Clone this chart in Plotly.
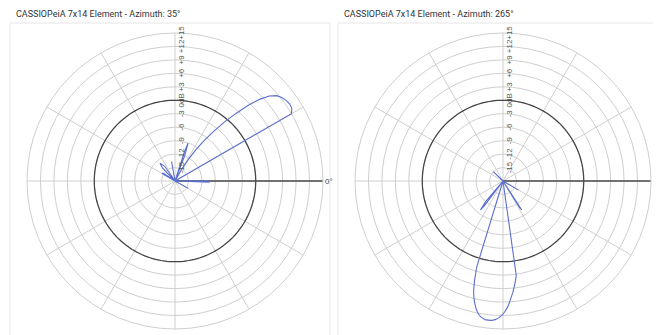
import plotly.graph_objects as go

# ---------------- data ----------------
r_ticks = [-15, -12, -9, -6, -3, 0, 3, 6, 9, 12, 15]
r_tick_labels = ["-15", "-12", "-9", "-6", "-3", "0dB", "+3", "+6", "+9", "+12", "+15"]
angle_ticks = [0, 30, 60, 90, 120, 150, 180, 210, 240, 270, 300, 330]
angle_tick_labels = ["0°", "", "", "", "", "", "", "", "", "", "", ""]

titles = ["CASSIOPeiA 7x14 Element - Azimuth: 35°",
          "CASSIOPeiA 7x14 Element - Azimuth: 265°"]

# azimuth 35 pattern (deg, dB)
theta_35 = [0, 1, 29, 30, 32, 34, 36, 38, 40, 42, 44, 46, 48, 50, 52, 54, 56, 58, 60, 62,
            67, 69, 71, 72, 73, 99, 100, 101, 120, 125, 130, 134, 138, 140, 146, 150, 153,
            329, 331, 333, 357, 358, 360]
gain_35 = [-10.5, -18, -18, 12.0, 12.7, 12.8, 12.6, 12.2, 11.6, 10.3, 8.2, 5.4, 2.2, -0.8,
           -3.8, -6.6, -9.3, -12.0, -14.8, -18,
           -18, -12, -9.1, -11, -18, -18, -13.6, -18, -18, -14, -12.8, -14, -18, -18, -15,
           -14.6, -18, -18, -14.6, -18, -18, -10.3, -10.5]

# azimuth 265 pattern (deg, dB)
theta_265 = [0, 134, 136, 138, 228, 230, 232, 233, 235,
             252, 253, 254, 255, 256, 257, 258, 259, 260, 261, 262, 263, 264, 265, 266, 267,
             268, 269, 270, 271, 272, 273, 274, 275, 276, 277, 278, 279,
             301, 302, 303, 305, 328, 329.5, 331, 360]
gain_265 = [-18, -18, -15, -18, -18, -12, -9.8, -11, -18,
            -18, 2, 5, 7.3, 8.8, 10, 11, 11.8, 12.4, 12.8, 13.0, 13.2, 13.2, 13.2, 13.1, 12.9,
            12.6, 12.2, 11.7, 11.0, 10.2, 9.2, 8.0, 7.0, 5.8, 4.6, 3.2, -18,
            -18, -11, -10.3, -18, -18, -14, -18, -18]

ref_theta = list(range(0, 361, 2))
ref_gain = [0] * len(ref_theta)

# ---------------- figure ----------------
# page body has an 8px margin, so figure coordinates = screen coordinates - 8
W, H = 653, 327
grid = "#cfcfcf"
blue = "#5a6fcf"

fig = go.Figure()
patterns = [(theta_35, gain_35), (theta_265, gain_265)]
for i, (th, g) in enumerate(patterns):
    sp = "polar" if i == 0 else "polar2"
    fig.add_trace(go.Scatterpolar(theta=ref_theta, r=ref_gain, mode="lines",
                                  line=dict(color="#444444", width=1.25),
                                  hoverinfo="skip", subplot=sp, showlegend=False))
    fig.add_trace(go.Scatterpolar(theta=[0, 0], r=[-18, 15], mode="lines",
                                  line=dict(color="#4a4a4a", width=1.4),
                                  hoverinfo="skip", subplot=sp, showlegend=False))
    fig.add_trace(go.Scatterpolar(theta=th, r=g, mode="lines",
                                  line=dict(color=blue, width=1.1),
                                  subplot=sp, showlegend=False))

def polar_layout(xdom):
    return dict(
        domain=dict(x=xdom, y=[6 / H, 302 / H]),
        bgcolor="white",
        radialaxis=dict(range=[-18, 15], tickvals=r_ticks, ticktext=r_tick_labels,
                        angle=90, tickangle=0, showline=False, gridcolor=grid,
                        gridwidth=1, ticks="", tickfont=dict(family="Liberation Sans", size=8,
                                                              color="#555555")),
        angularaxis=dict(rotation=0, direction="counterclockwise", tickvals=angle_ticks,
                         ticktext=angle_tick_labels, gridcolor=grid, gridwidth=1,
                         showline=True, linecolor=grid, linewidth=1, ticks="",
                         tickfont=dict(family="Liberation Sans", size=8, color="#444444")),
    )

fig.update_layout(
    width=W, height=H,
    margin=dict(l=0, r=0, t=0, b=0),
    paper_bgcolor="white",
    polar=polar_layout([19 / W, 315 / W]),
    polar2=polar_layout([347 / W, 643 / W]),
    showlegend=False,
)

for i, t in enumerate(titles):
    x0 = 6 if i == 0 else 334
    fig.add_annotation(text=t, xref="paper", yref="paper", x=x0 / W, y=1 - 6 / H,
                       xanchor="left", yanchor="middle", showarrow=False,
                       font=dict(family="Roboto", size=9, color="#333333"))

for x0, x1 in [(2, 322), (330, 653)]:
    fig.add_shape(type="rect", xref="paper", yref="paper",
                  x0=x0 / W, x1=x1 / W, y0=-1 / H, y1=1 - 15 / H,
                  line=dict(color="#e6e6e6", width=1), layer="below")

fig.write_html("out.html")
